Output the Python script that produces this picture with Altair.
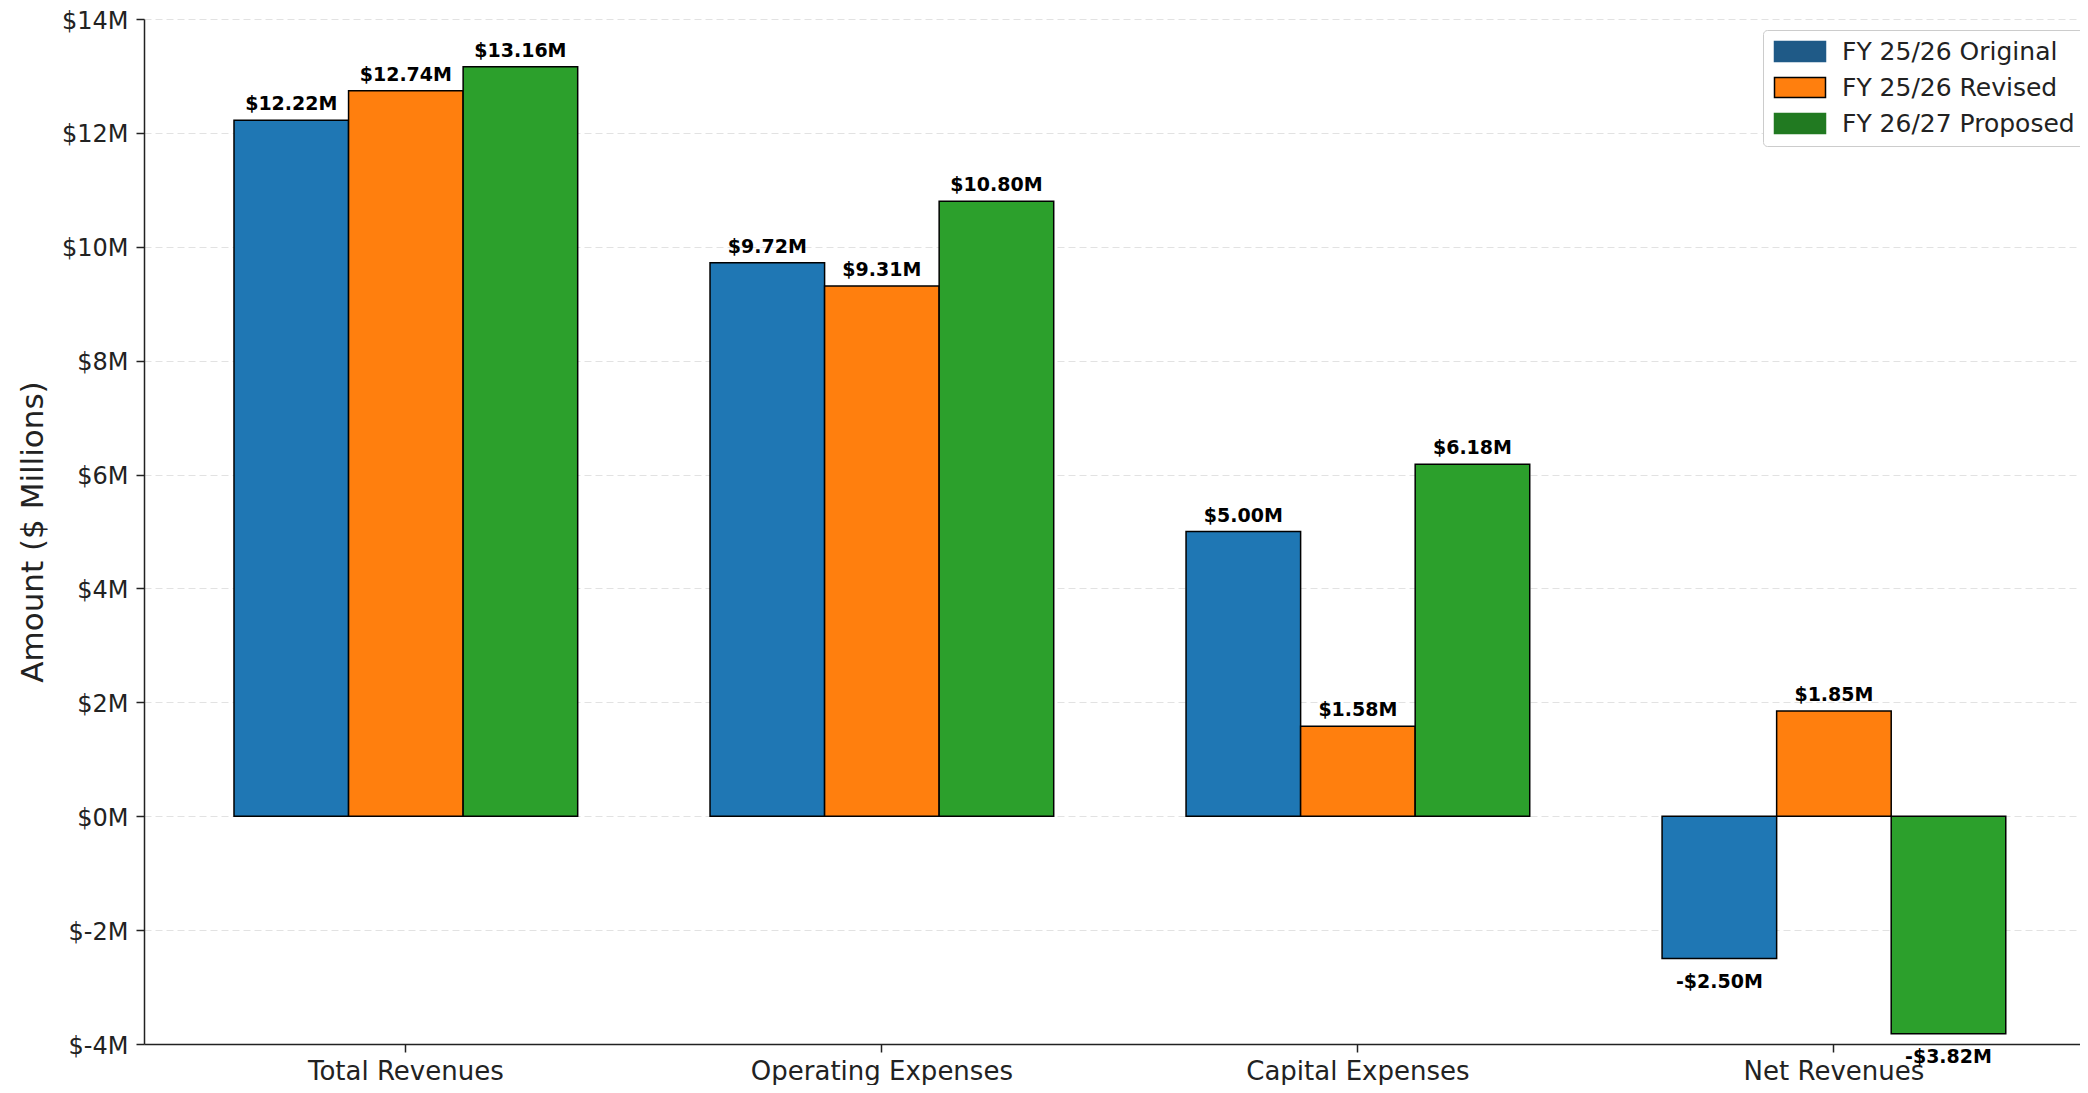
import altair as alt
import pandas as pd

categories = ["Total Revenues", "Operating Expenses", "Capital Expenses", "Net Revenues"]
series = ["FY 25/26 Original", "FY 25/26 Revised", "FY 26/27 Proposed"]
original = [12.22, 9.72, 5.00, -2.50]
revised = [12.74, 9.31, 1.58, 1.85]
proposed = [13.16, 10.80, 6.18, -3.82]
y_ticks = [-4, -2, 0, 2, 4, 6, 8, 10, 12, 14]
bar_colors = ["#1f77b4", "#ff7f0e", "#2ca02c"]
legend_fill = ["#1f5a87", "#ff7f0e", "#217a21"]
legend_stroke = ["#1f5a87", "#000000", "#217a21"]

rows = []
for s, vals in zip(series, [original, revised, proposed]):
    for c, v in zip(categories, vals):
        rows.append({"category": c, "series": s, "value": v})
df = pd.DataFrame(rows)

FONT = "DejaVu Sans"

x_enc = alt.X(
    "category:N",
    sort=categories,
    title=None,
    scale=alt.Scale(paddingInner=0.278, paddingOuter=0.1725, align=0.548),
    axis=alt.Axis(
        labelAngle=0,
        labelFontSize=26,
        labelFont=FONT,
        labelColor="#222222",
        labelPadding=6,
        labelLimit=0,
        tickSize=8,
        tickColor="#222222",
        domainColor="#222222",
        domainWidth=1.5,
        tickWidth=1.5,
        grid=False,
    ),
)
xoff_enc = alt.XOffset("series:N", sort=series, scale=alt.Scale(paddingInner=0, paddingOuter=0))
y_enc = alt.Y(
    "value:Q",
    title="Amount ($ Millions)",
    scale=alt.Scale(domain=[-4, 14], nice=False, zero=False),
    axis=alt.Axis(
        values=y_ticks,
        labelExpr="'$' + datum.value + 'M'",
        labelFontSize=24,
        labelFont=FONT,
        labelColor="#222222",
        labelPadding=8,
        labelOffset=2,
        tickSize=8,
        tickColor="#222222",
        tickWidth=1.5,
        domainColor="#222222",
        domainWidth=1.5,
        titleFont=FONT,
        titleFontSize=31,
        titleFontWeight="normal",
        titleColor="#222222",
        titlePadding=12,
        grid=True,
        gridColor="#e2e2e2",
        gridDash=[7, 4],
        gridWidth=1,
    ),
)

base = alt.Chart(df).transform_calculate(
    label="(datum.value < 0 ? '-' : '') + '$' + format(abs(datum.value), '.2f') + 'M'"
)

# bar fill: data-driven domain (kept separate from the legend's scale)
bars = base.mark_bar(stroke="black", strokeWidth=1.5).encode(
    x=x_enc,
    xOffset=xoff_enc,
    y=y_enc,
    fill=alt.Fill("series:N", sort=series, scale=alt.Scale(range=bar_colors), legend=None),
)

legend_props = dict(
    title=None,
    orient="none",
    legendX=1619,
    legendY=11,
    labelFont=FONT,
    labelFontSize=25,
    labelColor="#222222",
    labelLimit=0,
    labelOffset=45,
    symbolType="M-1,-1H4.1V1H-1Z",
    symbolSize=400,
    symbolStrokeWidth=1.5,
    symbolOpacity=1,
    rowPadding=9,
    padding=9,
    fillColor="white",
    strokeColor="#cccccc",
    cornerRadius=4,
)

legend_layer = base.mark_bar(opacity=0).encode(
    x=x_enc,
    xOffset=xoff_enc,
    y=y_enc,
    color=alt.Color("series:N", sort=series, scale=alt.Scale(domain=series, range=legend_fill),
                    legend=alt.Legend(**legend_props)),
    stroke=alt.Stroke("series:N", sort=series, scale=alt.Scale(domain=series, range=legend_stroke),
                      legend=alt.Legend(**legend_props)),
)

pos_text = base.transform_filter("datum.value >= 0").mark_text(
    font=FONT, fontWeight="bold", fontSize=19, baseline="alphabetic", dy=-10, color="black"
).encode(x=x_enc, xOffset=xoff_enc, y=y_enc, text="label:N")

neg_text = base.transform_filter("datum.value < 0").mark_text(
    font=FONT, fontWeight="bold", fontSize=19, baseline="alphabetic", dy=29, color="black"
).encode(x=x_enc, xOffset=xoff_enc, y=y_enc, text="label:N")

chart = alt.layer(bars, legend_layer, pos_text, neg_text).properties(
    width=1936,
    height=1025,
    autosize=alt.AutoSizeParams(type="none"),
    padding={"left": 136, "top": 11, "right": 0, "bottom": 41},
    background="white",
).configure_view(stroke=None)

chart.save("out.html", embed_options={"renderer": "svg", "actions": False})
